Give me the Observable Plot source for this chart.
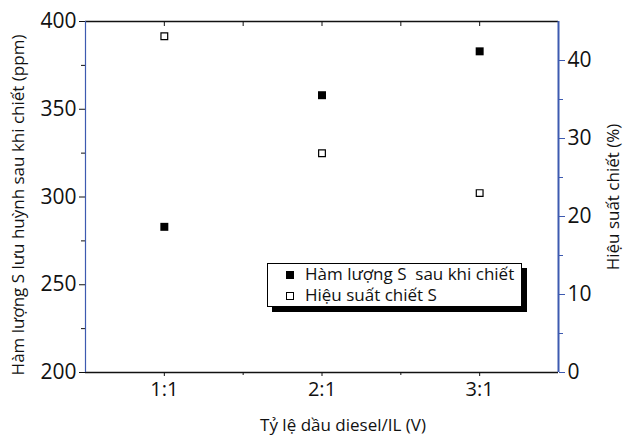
<!DOCTYPE html>
<html><head><meta charset="utf-8">
<script src="https://cdn.jsdelivr.net/npm/d3@7"></script>
<script src="https://cdn.jsdelivr.net/npm/@observablehq/plot@0.6"></script>
<style>
body{margin:0;background:#fff;font-family:"Open Sans",sans-serif}
#wrap{position:relative;width:625px;height:436px}
#legend{position:absolute;left:267px;top:263px;width:253px;height:42px;border:1px solid #000;background:#fff;box-shadow:5px 5px 0 #000;font-size:17px;color:#111;box-sizing:content-box}
#legend .row{position:absolute;left:0;height:20px;line-height:20px;white-space:pre}
#legend .sw{position:absolute;left:18px;top:6px;width:8px;height:8px;box-sizing:border-box}
#legend .tx{position:absolute;left:37px;top:-1px}
</style></head><body><div id="wrap"></div>
<script>
const ratios = ["1:1", "2:1", "3:1"];
const sulfurPpm = [283, 358, 383];           // filled squares, left axis
const efficiencyPct = [43.1, 28.1, 23.0];     // open squares, right axis
const leftTicks = [200, 250, 300, 350, 400];
const leftMinor = [225, 275, 325, 375];
const rightTicks = [0, 10, 20, 30, 40];
const rightMinor = [5, 15, 25, 35];
const seriesNames = ["Hàm lượng S  sau khi chiết", "Hiệu suất chiết S"];
const xTitle = "Tỷ lệ dầu diesel/IL (V)";
const yLeftTitle = "Hàm lượng S lưu huỳnh sau khi chiết (ppm)";
const yRightTitle = "Hiệu suất chiết (%)";

const L0 = 200, L1 = 400, R1 = 45;
const toLeft = v => L0 + v * (L1 - L0) / R1;
const fromLeft = y => Math.round((y - L0) * R1 / (L1 - L0));
const data = ratios.map((r, i) => ({x: i + 1, s: sulfurPpm[i], e: toLeft(efficiencyPct[i])}));
const blue = "#3d5ab0";

const chart = Plot.plot({
  width: 625, height: 436,
  marginLeft: 85, marginRight: 67, marginTop: 21, marginBottom: 64,
  style: {fontFamily: "'Open Sans', sans-serif", background: "#fff", color: "#111"},
  x: {domain: [0.5, 3.5]},
  y: {domain: [L0, L1]},
  marks: [
    Plot.axisY(leftTicks, {anchor: "left", tickSize: 6, tickPadding: 3, fontSize: 21, label: null}),
    Plot.axisY(leftMinor, {anchor: "left", tickSize: 4, tickFormat: () => "", label: null}),
    Plot.axisY(rightTicks.map(toLeft), {anchor: "right", tickSize: 6, tickPadding: 3, fontSize: 21, stroke: blue, fill: "#111", tickFormat: fromLeft, label: null}),
    Plot.axisY(rightMinor.map(toLeft), {anchor: "right", tickSize: 4, stroke: blue, tickFormat: () => "", label: null}),
    Plot.axisX([1, 2, 3], {anchor: "bottom", tickSize: 4, tickPadding: 5, fontSize: 20, tickFormat: d => ratios[d - 1], label: null}),
    Plot.axisX([1.5, 2.5], {anchor: "bottom", tickSize: 3, tickFormat: () => "", label: null}),
    Plot.axisX([1, 1.5, 2, 2.5, 3], {anchor: "top", tickSize: -4, tickFormat: () => "", label: null}),
    Plot.ruleY([L0, L1], {stroke: "#111", strokeWidth: 1.3}),
    Plot.ruleX([0.5], {stroke: blue, strokeWidth: 1.2}),
    Plot.ruleX([3.5], {stroke: blue, strokeWidth: 2}),
    Plot.text([xTitle], {frameAnchor: "bottom", textAnchor: "middle", lineAnchor: "middle", dx: 21, dy: 53, fontSize: 17, fill: "#111"}),
    Plot.text([yLeftTitle], {frameAnchor: "left", textAnchor: "middle", lineAnchor: "middle", dx: -67, dy: 8, rotate: -90, fontSize: 17, fill: "#111"}),
    Plot.text([yRightTitle], {frameAnchor: "right", textAnchor: "middle", lineAnchor: "middle", dx: 55, dy: 0, rotate: -90, fontSize: 17, fill: "#111"}),
    Plot.dot(data, {x: "x", y: "s", symbol: "square", r: 4.5, fill: "#000", stroke: "none"}),
    Plot.dot(data, {x: "x", y: "e", symbol: "square", r: 3.8, fill: "#fff", stroke: "#000", strokeWidth: 1.2})
  ]
});
const wrap = document.getElementById("wrap");
wrap.appendChild(chart);

const legend = document.createElement("div");
legend.id = "legend";
seriesNames.forEach((name, i) => {
  const row = document.createElement("div");
  row.className = "row";
  row.style.top = (1 + i * 21) + "px";
  const sw = document.createElement("span");
  sw.className = "sw";
  sw.style.background = i === 0 ? "#000" : "#fff";
  sw.style.border = "1.2px solid #000";
  const tx = document.createElement("span");
  tx.className = "tx";
  tx.textContent = name;
  row.appendChild(sw); row.appendChild(tx);
  legend.appendChild(row);
});
wrap.appendChild(legend);
</script></body></html>
